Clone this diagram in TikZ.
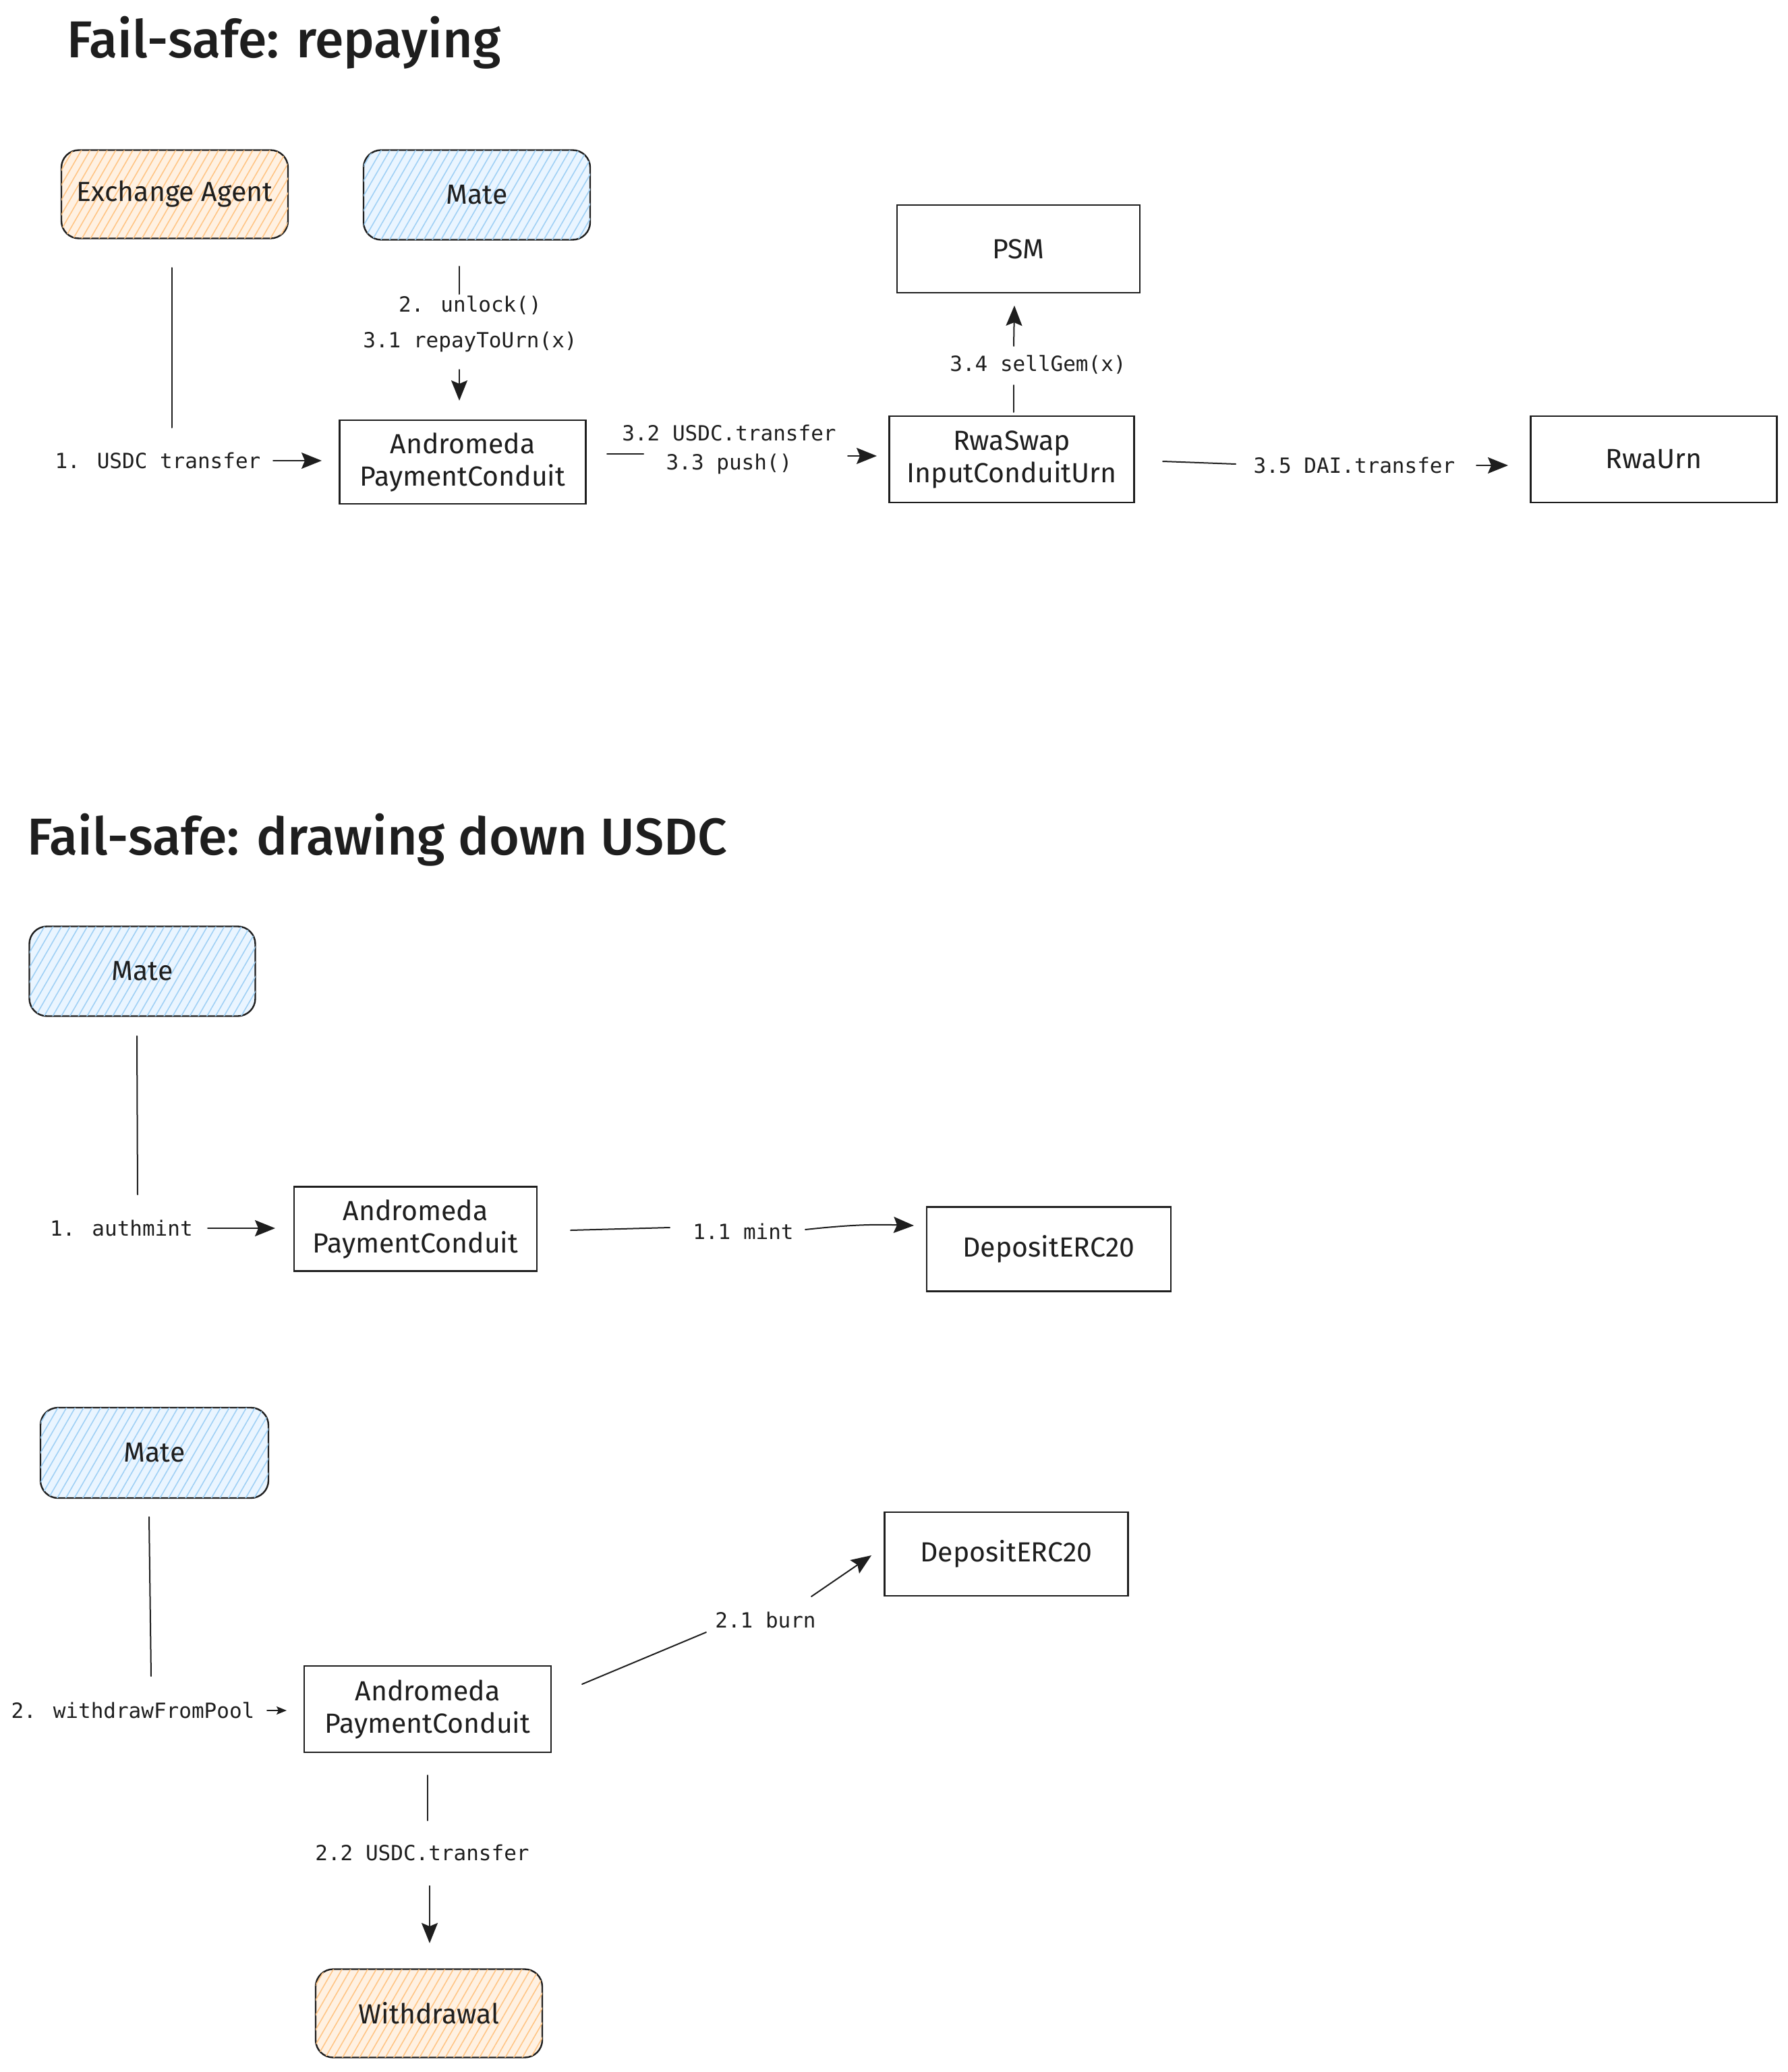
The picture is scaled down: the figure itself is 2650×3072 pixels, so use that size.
\documentclass[tikz,border=0pt]{standalone}
\usepackage{fontspec}
\setmainfont{Fira Sans}
\newfontfamily\codefont{DejaVu Sans Mono}
\newfontfamily\titlefont{Fira Sans Medium}
\usetikzlibrary{arrows.meta,patterns.meta}
\definecolor{orfill}{HTML}{FFF1E2}
\definecolor{orline}{HTML}{FFC585}
\definecolor{blfill}{HTML}{EAF5FF}
\definecolor{blline}{HTML}{9FD0F5}
\definecolor{ink}{HTML}{1E1E1E}
\tikzset{
  box/.style={draw=ink, line width=2.4pt, align=center, inner sep=0pt, text=ink,
    font=\fontsize{41}{48}\selectfont},
  roundbox/.style={box, rounded corners=26pt},
  orangebox/.style={roundbox, fill=orfill,
    postaction={pattern={Lines[angle=60,distance=11pt,line width=1.6pt]}, pattern color=orline}},
  bluebox/.style={roundbox, fill=blfill,
    postaction={pattern={Lines[angle=60,distance=11pt,line width=1.6pt]}, pattern color=blline}},
  lbl/.style={font=\codefont\fontsize{31}{43}\selectfont, text=ink, align=center, inner sep=0pt},
  line/.style={draw=ink, line width=2pt, line cap=round},
  arr/.style={line, -{Stealth[length=30pt,width=24pt,inset=5pt]}},
  smallarr/.style={line, -{Stealth[length=15pt,width=12pt,inset=3pt]}},
  title/.style={font=\titlefont\fontsize{77}{82}\selectfont, text=ink, anchor=base west, inner sep=0pt},
}
\begin{document}
\begin{tikzpicture}[x=1pt,y=-1pt]
\useasboundingbox[fill=white] (0,0) rectangle (2650,3072);

% ---------- Section 1 ----------
\node[title] (t1) at (99,86) {Fail-safe: repaying};

\node[orangebox, minimum width=336pt, minimum height=131pt] (ea) at (259,288) {Exchange Agent};
\node[bluebox, minimum width=336pt, minimum height=133pt] (mate1) at (707,289) {Mate};
\node[box, minimum width=365pt, minimum height=124pt] (pc1) at (686,685) {Andromeda\\PaymentConduit};
\node[box, minimum width=360pt, minimum height=130pt] (psm) at (1510,369) {PSM};
\node[box, minimum width=363pt, minimum height=128pt] (swap) at (1500,681) {RwaSwap\\InputConduitUrn};
\node[box, minimum width=365pt, minimum height=128pt] (urn) at (2452,681) {RwaUrn};

\node[lbl] (l1) at (234,683) {1. USDC transfer};
\node[lbl] (l2) at (697,480) {2. unlock()\\[10pt]3.1 repayToUrn(x)};
\node[lbl] (l3) at (1081,666) {3.2 USDC.transfer\\3.3 push()};
\node[lbl] (l4) at (1539,541) {3.4 sellGem(x)};
\node[lbl] (l5) at (2008,690) {3.5 DAI.transfer};

\draw[line] ([shift={(-4,109)}]ea.center) -- ([shift={(21,-49)}]l1.center);
\draw[arr] ([shift={(171,0)}]l1.center) -- ([shift={(-209,-2)}]pc1.center);

\draw[line] ([shift={(-26,106)}]mate1.center) -- ([shift={(-16,-44)}]l2.center);
\draw[arr] ([shift={(-16,68)}]l2.center) -- ([shift={(-5,-91)}]pc1.center);

\draw[line] ([shift={(214,-12)}]pc1.center) -- ([shift={(-127,7)}]l3.center);
\draw[arr] ([shift={(176,10)}]l3.center) -- ([shift={(-200,-5)}]swap.center);

\draw[line] ([shift={(3,-70)}]swap.center) -- ([shift={(-36,30)}]l4.center);
\draw[arr] ([shift={(-36,-28)}]l4.center) -- ([shift={(-6,84)}]psm.center);

\draw[line] ([shift={(224,3)}]swap.center) -- ([shift={(-176,-2)}]l5.center);
\draw[arr] ([shift={(181,0)}]l5.center) -- ([shift={(-216,9)}]urn.center);

% ---------- Section 2 ----------
\node[title] (t2) at (40,1267) {Fail-safe: drawing down USDC};

\node[bluebox, minimum width=335pt, minimum height=133pt] (mate2) at (211,1440) {Mate};
\node[box, minimum width=360pt, minimum height=125pt] (pc2) at (616,1822) {Andromeda\\PaymentConduit};
\node[box, minimum width=362pt, minimum height=125pt] (dep1) at (1555,1852) {DepositERC20};

\node[lbl] (l6) at (180,1821) {1. authmint};
\node[lbl] (l7) at (1102,1826) {1.1 mint};

\draw[line] ([shift={(-8,96)}]mate2.center) -- ([shift={(24,-50)}]l6.center);
\draw[arr] ([shift={(128,0)}]l6.center) -- ([shift={(-208,-1)}]pc2.center);

\draw[line] ([shift={(230,2)}]pc2.center) -- ([shift={(-109,-6)}]l7.center);
\draw[arr] ([shift={(92,-3)}]l7.center) to[bend left=4] ([shift={(-200,-35)}]dep1.center);

% ---------- Section 3 ----------
\node[bluebox, minimum width=338pt, minimum height=134pt] (mate3) at (229,2154) {Mate};
\node[box, minimum width=366pt, minimum height=128pt] (pc3) at (634,2534) {Andromeda\\PaymentConduit};
\node[box, minimum width=361pt, minimum height=124pt] (dep2) at (1492,2304) {DepositERC20};
\node[orangebox, minimum width=336pt, minimum height=131pt] (wd) at (636,2985) {Withdrawal};

\node[lbl] (l8) at (197,2536) {2. withdrawFromPool};
\node[lbl] (l9) at (1135,2402) {2.1 burn};
\node[lbl] (l10) at (626,2747) {2.2 USDC.transfer};

\draw[line] ([shift={(-8,95)}]mate3.center) -- ([shift={(27,-51)}]l8.center);
\draw[smallarr] ([shift={(199,0)}]l8.center) -- ([shift={(-209,2)}]pc3.center);

\draw[line] ([shift={(229,-37)}]pc3.center) -- ([shift={(-88,18)}]l9.center);
\draw[arr] ([shift={(68,-35)}]l9.center) -- ([shift={(-200,2)}]dep2.center);

\draw[line] ([shift={(0,98)}]pc3.center) -- ([shift={(8,-48)}]l10.center);
\draw[arr] ([shift={(11,49)}]l10.center) -- ([shift={(1,-104)}]wd.center);
\end{tikzpicture}
\end{document}
